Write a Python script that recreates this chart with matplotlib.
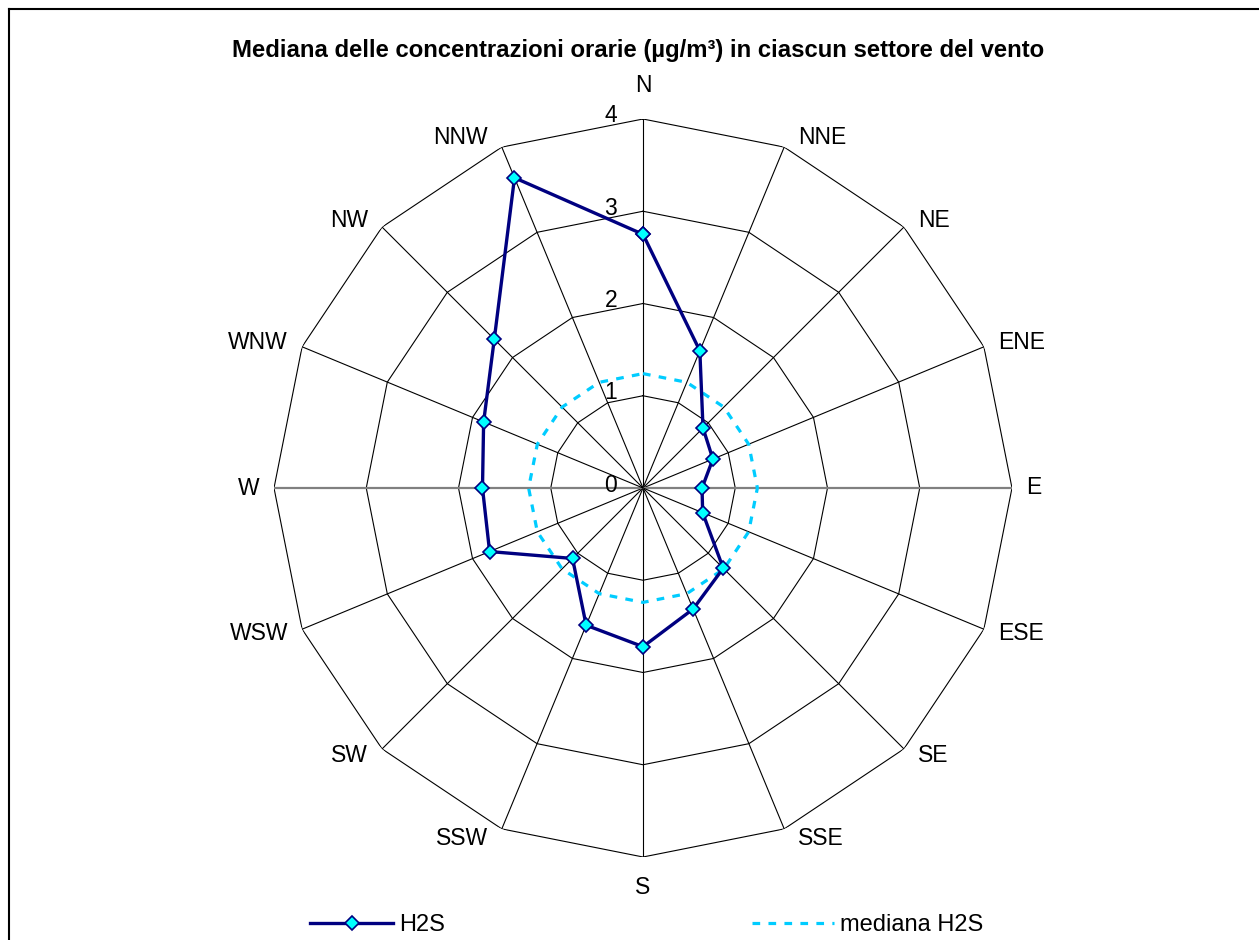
import numpy as np
import matplotlib
matplotlib.use("Agg")
import matplotlib.pyplot as plt
from matplotlib.lines import Line2D

plt.rcParams['font.family'] = ['Liberation Sans', 'DejaVu Sans']

# ---- data ----
directions = ["N", "NNE", "NE", "ENE", "E", "ESE", "SE", "SSE",
              "S", "SSW", "SW", "WSW", "W", "WNW", "NW", "NNW"]
h2s = [2.75, 1.61, 0.92, 0.82, 0.64, 0.70, 1.23, 1.42,
       1.72, 1.61, 1.08, 1.80, 1.74, 1.87, 2.28, 3.64]
mediana_h2s = [1.24] * 16
ring_values = [1, 2, 3, 4]
radial_labels = ["0", "1", "2", "3", "4"]
title = "Mediana delle concentrazioni orarie (µg/m³) in ciascun settore del vento"
series_names = ["H2S", "mediana H2S"]

# ---- figure ----
W, H = 1259, 940
fig = plt.figure(figsize=(W / 100, H / 100), dpi=100)
cx, cy, R = 643, 488, 369
ax = fig.add_axes([(cx - R) / W, (H - cy - R) / H, 2 * R / W, 2 * R / H],
                  projection='polar')
ax.set_theta_zero_location('N')
ax.set_theta_direction(-1)
ax.set_ylim(0, 4)
ax.axis('off')

n = len(directions)
theta = np.arange(n) * 2 * np.pi / n
theta_c = np.append(theta, theta[0])

# rings (polygons)
for rv in ring_values:
    ax.plot(theta_c, [rv] * (n + 1), color='black', lw=0.8, zorder=1)
# spokes
for i, t in enumerate(theta):
    if directions[i] in ("E", "W"):
        ax.plot([t, t], [0, ring_values[-1]], color='#808080', lw=1.6, zorder=1)
    else:
        ax.plot([t, t], [0, ring_values[-1]], color='black', lw=0.8, zorder=1)

# median series
med_c = mediana_h2s + [mediana_h2s[0]]
ax.plot(theta_c, med_c, color='#00CCFF', lw=2.3, dashes=(2.4, 2.6), zorder=3)

# H2S series
h_c = h2s + [h2s[0]]
ax.plot(theta_c, h_c, color='#000080', lw=2.4, marker='D', markersize=7.5,
        markerfacecolor='#00FFFF', markeredgecolor='#000080',
        markeredgewidth=1.2, zorder=4)

# radial labels
for k, lab in enumerate(radial_labels):
    ax.annotate(lab, xy=(0, k), xytext=(-26, 3), textcoords='offset pixels',
                ha='right', va='center', fontsize=16.5, zorder=5)

# direction labels
for i, t in enumerate(theta):
    s, c = np.sin(t), np.cos(t)
    d = directions[i]
    if d == "N":
        off, ha = (0, 34), 'center'
    elif d == "S":
        off, ha = (0, -30), 'center'
    else:
        off = (14 * np.sign(s), 10 * c)
        ha = 'left' if s > 0 else 'right'
    ax.annotate(d, xy=(t, ring_values[-1]), xytext=off, textcoords='offset pixels',
                ha=ha, va='center', fontsize=16.5, annotation_clip=False)

# title
fig.text(638 / W, 1 - 50 / H, title, ha='center', va='center',
         fontsize=17.2, fontweight='bold')

# legend
handles = [
    Line2D([], [], color='#000080', lw=2.4, marker='D', markersize=7.5,
           markerfacecolor='#00FFFF', markeredgecolor='#000080', markeredgewidth=1.2),
    Line2D([], [], color='#00CCFF', lw=2.3, dashes=(2.4, 2.6)),
]
fig.legend(handles, series_names, loc='center', bbox_to_anchor=(647 / W, 1 - 925 / H),
           ncol=2, frameon=False, fontsize=17, handlelength=3.5, handletextpad=0.25,
           columnspacing=13, numpoints=1, borderpad=0.1)

# outer frame (top and left edges visible)
fig.add_artist(Line2D([9 / W, 1.0], [1 - 9 / H, 1 - 9 / H], transform=fig.transFigure,
                      color='black', lw=1.5))
fig.add_artist(Line2D([9 / W, 9 / W], [0, 1 - 9 / H], transform=fig.transFigure,
                      color='black', lw=1.5))

fig.savefig("out.png", dpi=100)
